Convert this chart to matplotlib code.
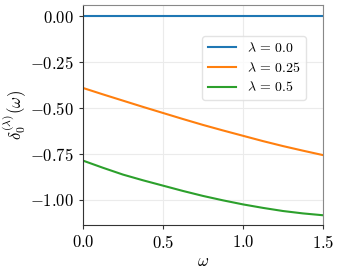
import matplotlib
matplotlib.use("Agg")
import matplotlib.pyplot as plt
from matplotlib.ticker import FuncFormatter, MultipleLocator

plt.rcParams['mathtext.fontset'] = 'cm'
plt.rcParams['font.family'] = 'serif'
plt.rcParams['font.serif'] = ['cmr10', 'DejaVu Serif']
plt.rcParams['axes.formatter.use_mathtext'] = True

omega = [0.0, 0.125, 0.25, 0.375, 0.5, 0.625, 0.75, 0.875, 1.0, 1.125, 1.25, 1.375, 1.5]
delta_00 = [0.0] * 13
delta_025 = [-0.391, -0.426, -0.460, -0.494, -0.527, -0.560, -0.592, -0.622, -0.651, -0.680, -0.707, -0.732, -0.756]
delta_05 = [-0.786, -0.825, -0.862, -0.893, -0.922, -0.951, -0.978, -1.002, -1.024, -1.043, -1.060, -1.073, -1.083]
labels = [r'$\lambda\,=\,0.0$', r'$\lambda\,=\,0.25$', r'$\lambda\,=\,0.5$']

fig = plt.figure(figsize=(3.41, 2.73), dpi=100)
ax = fig.add_axes([83/341, 48/273, 240/341, 220/273])
ax.plot(omega, delta_00, color='#1f77b4', lw=1.5, label=labels[0])
ax.plot(omega, delta_025, color='#ff7f0e', lw=1.5, label=labels[1])
ax.plot(omega, delta_05, color='#2ca02c', lw=1.5, label=labels[2])
ax.set_xlim(0, 1.5)
ax.set_ylim(-1.136, 0.06)
ax.xaxis.set_major_locator(MultipleLocator(0.5))
ax.yaxis.set_major_locator(MultipleLocator(0.25))
ax.xaxis.set_major_formatter(FuncFormatter(lambda v, p: r'$%.1f$' % v))
ax.yaxis.set_major_formatter(FuncFormatter(lambda v, p: r'$%.2f$' % (0 if abs(v) < 1e-9 else v)))
ax.grid(True, color='#ebebeb', lw=0.8)
ax.set_axisbelow(True)
for s in ['left', 'bottom']:
    ax.spines[s].set_color('#333333')
for s in ['top', 'right']:
    ax.spines[s].set_color('#888888')
ax.tick_params(labelsize=12, length=3, color='#333333')
ax.set_xlabel(r'$\omega$', fontsize=12, labelpad=2)
ax.set_ylabel(r'$\delta_0^{(\lambda)}(\omega)$', fontsize=12, labelpad=1)
ax.legend(loc='upper right', bbox_to_anchor=(0.93, 0.86), borderaxespad=0, fontsize=10,
          frameon=True, edgecolor='#dddddd', fancybox=True, handlelength=2.0, labelspacing=0.4)
fig.savefig('out.png', dpi=100)
